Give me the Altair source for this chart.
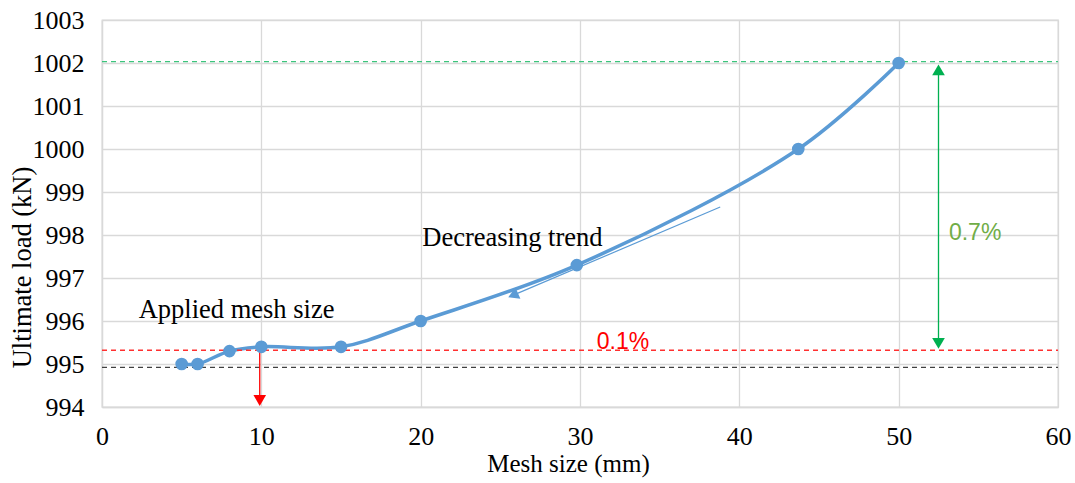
import altair as alt
import pandas as pd

# Data
mesh_size = [5, 6, 8, 10, 15, 20, 29.8, 43.7, 50]
ultimate_load = [995.0, 995.0, 995.3, 995.4, 995.4, 996.0, 997.3, 1000.0, 1002.0]

ref_levels = [1002.03, 995.32, 994.92]
ref_colors = ["#3CC47C", "#FF3030", "#404040"]

x_ticks = [0, 10, 20, 30, 40, 50, 60]
y_ticks = [994, 995, 996, 997, 998, 999, 1000, 1001, 1002, 1003]

SERIF = "Liberation Serif"
SANS = "Liberation Sans"
BLUE = "#5B9BD5"

df = pd.DataFrame({"x": mesh_size, "y": ultimate_load})

xs = alt.Scale(domain=[0, 60], nice=False)
ys = alt.Scale(domain=[994, 1003], nice=False, zero=False)

X = alt.X("x:Q", scale=xs, title="Mesh size (mm)",
          axis=alt.Axis(values=x_ticks, format="d", labelPadding=16, labelFlush=False,
                        titlePadding=2, titleX=466, labelFont=SERIF))
Y = alt.Y("y:Q", scale=ys, title="Ultimate load (kN)",
          axis=alt.Axis(values=y_ticks, format="d", labelPadding=18, labelFont=SERIF,
                        titleX=-80, titleY=247, titleBaseline="middle", titleAlign="center",
                        titleAngle=270, titleFontSize=26.5))

base = alt.Chart(df)

line = base.mark_line(color=BLUE, strokeWidth=3.5, interpolate="catmull-rom").encode(x=X, y=Y)
points = base.mark_point(color=BLUE, filled=True, opacity=1, size=160).encode(
    x=alt.X("x:Q", scale=xs), y=alt.Y("y:Q", scale=ys))

# dashed reference lines
ref_df = pd.DataFrame({"x": [0] * 3, "x2": [60] * 3, "y": ref_levels, "c": ref_colors})
refs = alt.Chart(ref_df).mark_rule(strokeDash=[5, 4], strokeWidth=1.3).encode(
    x=alt.X("x:Q", scale=xs), x2="x2:Q", y=alt.Y("y:Q", scale=ys),
    color=alt.Color("c:N", scale=None))

# red arrow (applied mesh size)
red_rule = alt.Chart(pd.DataFrame({"x": [9.9], "y": [995.4], "y2": [994.2]})).mark_rule(
    color="#FF0000", strokeWidth=1.3).encode(
    x=alt.X("x:Q", scale=xs), y=alt.Y("y:Q", scale=ys), y2="y2:Q")
red_head = alt.Chart(pd.DataFrame({"x": [9.9], "y": [994.15]})).mark_point(
    shape="triangle-down", filled=True, color="#FF0000", opacity=1, size=160).encode(
    x=alt.X("x:Q", scale=xs), y=alt.Y("y:Q", scale=ys))

# green double arrow
green_rule = alt.Chart(pd.DataFrame({"x": [52.5], "y": [1001.85], "y2": [995.45]})).mark_rule(
    color="#00B050", strokeWidth=1.3).encode(
    x=alt.X("x:Q", scale=xs), y=alt.Y("y:Q", scale=ys), y2="y2:Q")
green_heads = alt.Chart(pd.DataFrame({"x": [52.5, 52.5], "y": [1001.84, 995.48],
                                      "s": ["triangle-up", "triangle-down"]})).mark_point(
    filled=True, color="#00B050", opacity=1, size=160).encode(
    x=alt.X("x:Q", scale=xs), y=alt.Y("y:Q", scale=ys),
    shape=alt.Shape("s:N", scale=None))

# thin blue trend arrow
trend_df = pd.DataFrame({"x": [38.8, 26.0], "y": [998.65, 996.63]})
trend_line = alt.Chart(trend_df).mark_line(color=BLUE, strokeWidth=1.2).encode(
    x=alt.X("x:Q", scale=xs), y=alt.Y("y:Q", scale=ys))
trend_head = alt.Chart(pd.DataFrame({"x": [25.8], "y": [996.6]})).mark_point(
    shape="triangle-up", filled=True, color=BLUE, opacity=1, size=150, angle=246).encode(
    x=alt.X("x:Q", scale=xs), y=alt.Y("y:Q", scale=ys))

# annotations
serif_txt = alt.Chart(pd.DataFrame({"x": [2.3, 20.1], "y": [996.26, 997.93],
                                    "t": ["Applied mesh size", "Decreasing trend"]})).mark_text(
    font=SERIF, fontSize=26.5, align="left", baseline="middle", color="black").encode(
    x=alt.X("x:Q", scale=xs), y=alt.Y("y:Q", scale=ys), text="t:N")
pct_txt = alt.Chart(pd.DataFrame({"x": [32.7, 54.8], "y": [995.51, 998.05],
                                  "t": ["0.1%", "0.7%"], "c": ["#FF0000", "#70AD47"]})).mark_text(
    font=SANS, fontSize=23, align="center", baseline="middle").encode(
    x=alt.X("x:Q", scale=xs), y=alt.Y("y:Q", scale=ys), text="t:N",
    color=alt.Color("c:N", scale=None))

chart = alt.layer(line, refs, red_rule, red_head, green_rule, green_heads, trend_line,
                  trend_head, points, serif_txt, pct_txt).properties(
    width=956, height=387,
    autosize=alt.AutoSizeParams(type="none"),
    padding={"left": 102, "top": 20, "right": 17, "bottom": 76},
    background="white",
).configure_view(stroke="#d9d9d9", strokeWidth=1.3).configure_axis(
    grid=True, gridColor="#d9d9d9", gridWidth=1.3,
    domainColor="#d9d9d9", domainWidth=1.3, ticks=False,
    labelFont=SERIF, labelFontSize=26, labelColor="black",
    titleFont=SERIF, titleFontSize=25, titleFontWeight="normal", titleColor="black",
)

chart.save("out.html", embed_options={"renderer": "svg", "actions": False})
